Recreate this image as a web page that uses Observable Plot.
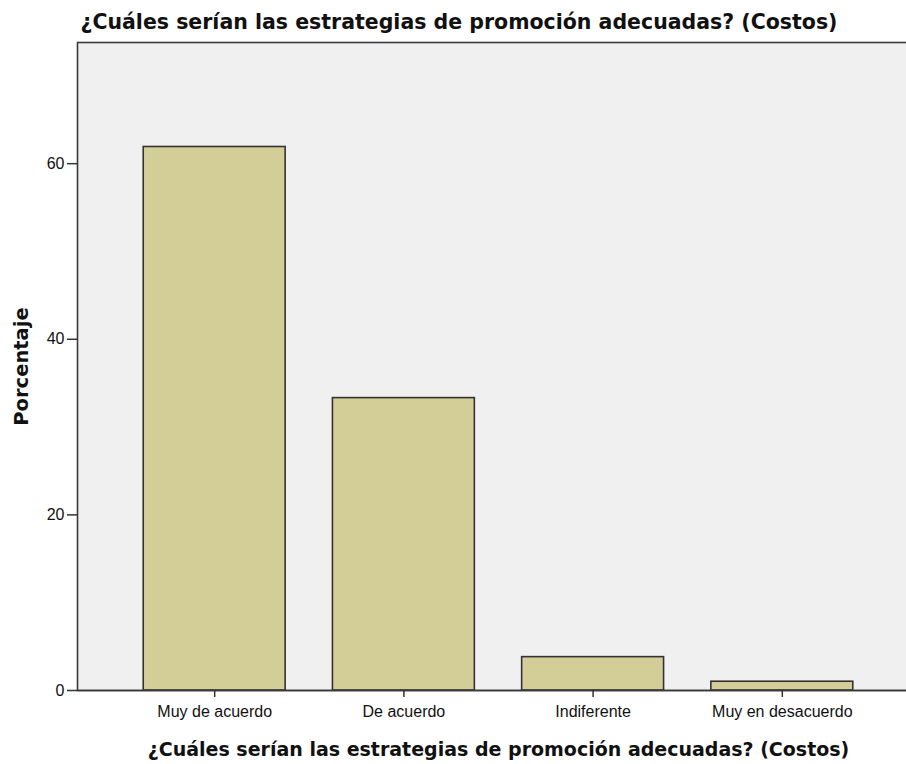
<!DOCTYPE html>
<html>
<head>
<meta charset="utf-8">
<script src="https://cdn.jsdelivr.net/npm/d3@7"></script>
<script src="https://cdn.jsdelivr.net/npm/@observablehq/plot@0.6"></script>
<style>
  html, body { margin: 0; padding: 0; overflow: hidden; background: #ffffff; }
  #chart { width: 919px; }
  #chart svg { display: block; max-width: none !important; width: 919px !important; height: 764px !important; }
</style>
</head>
<body>
<div id="chart"></div>
<script>
// ---- data ----
const categories = ["Muy de acuerdo", "De acuerdo", "Indiferente", "Muy en desacuerdo"];
const percentages = [61.9, 33.3, 3.8, 1.0];
const yTicks = [0, 20, 40, 60];
const yMax = 73.8;
const chartTitle = "¿Cuáles serían las estrategias de promoción adecuadas? (Costos)";
const xTitle = "¿Cuáles serían las estrategias de promoción adecuadas? (Costos)";
const yTitle = "Porcentaje";

const rows = categories.map((c, i) => ({category: c, value: percentages[i]}));

const chart = Plot.plot({
  width: 919,
  height: 764,
  marginLeft: 77,
  marginRight: 0,
  marginTop: 42,
  marginBottom: 74,
  style: {fontFamily: "'Liberation Sans', Arial, sans-serif", fontSize: "16px", color: "#111", background: "#ffffff", maxWidth: "none"},
  x: {domain: categories, paddingInner: 0.25, paddingOuter: 0.35, round: false},
  y: {domain: [0, yMax]},
  marks: [
    Plot.frame({fill: "#f0f0f0", stroke: "#3a3a3a", strokeWidth: 1.6}),
    Plot.barY(rows, {x: "category", y: "value", fill: "#d3ce98", stroke: "#333333", strokeWidth: 1.6}),
    Plot.ruleY([0], {stroke: "#3a3a3a", strokeWidth: 1.6}),
    Plot.axisX({tickSize: 7, tickPadding: 8, label: null, color: "#111", stroke: "#333", strokeWidth: 1.5}),
    Plot.axisY({ticks: yTicks, tickSize: 10, tickPadding: 3, label: null, color: "#111", stroke: "#333", strokeWidth: 1.5}),
    Plot.text([chartTitle], {frameAnchor: "top-left", textAnchor: "start", lineAnchor: "middle", dx: 3, dy: -20,
      fontFamily: "'DejaVu Sans', sans-serif", fontWeight: "bold", fontSize: 20.5, fill: "#111"}),
    Plot.text([xTitle], {frameAnchor: "bottom", textAnchor: "middle", lineAnchor: "middle", dy: 59,
      fontFamily: "'DejaVu Sans', sans-serif", fontWeight: "bold", fontSize: 19, fill: "#111"}),
    Plot.text([yTitle], {frameAnchor: "left", textAnchor: "middle", lineAnchor: "middle", rotate: -90, dx: -56,
      fontFamily: "'DejaVu Sans', sans-serif", fontWeight: "bold", fontSize: 19.5, fill: "#111"})
  ]
});
document.getElementById("chart").appendChild(chart);
</script>
</body>
</html>
